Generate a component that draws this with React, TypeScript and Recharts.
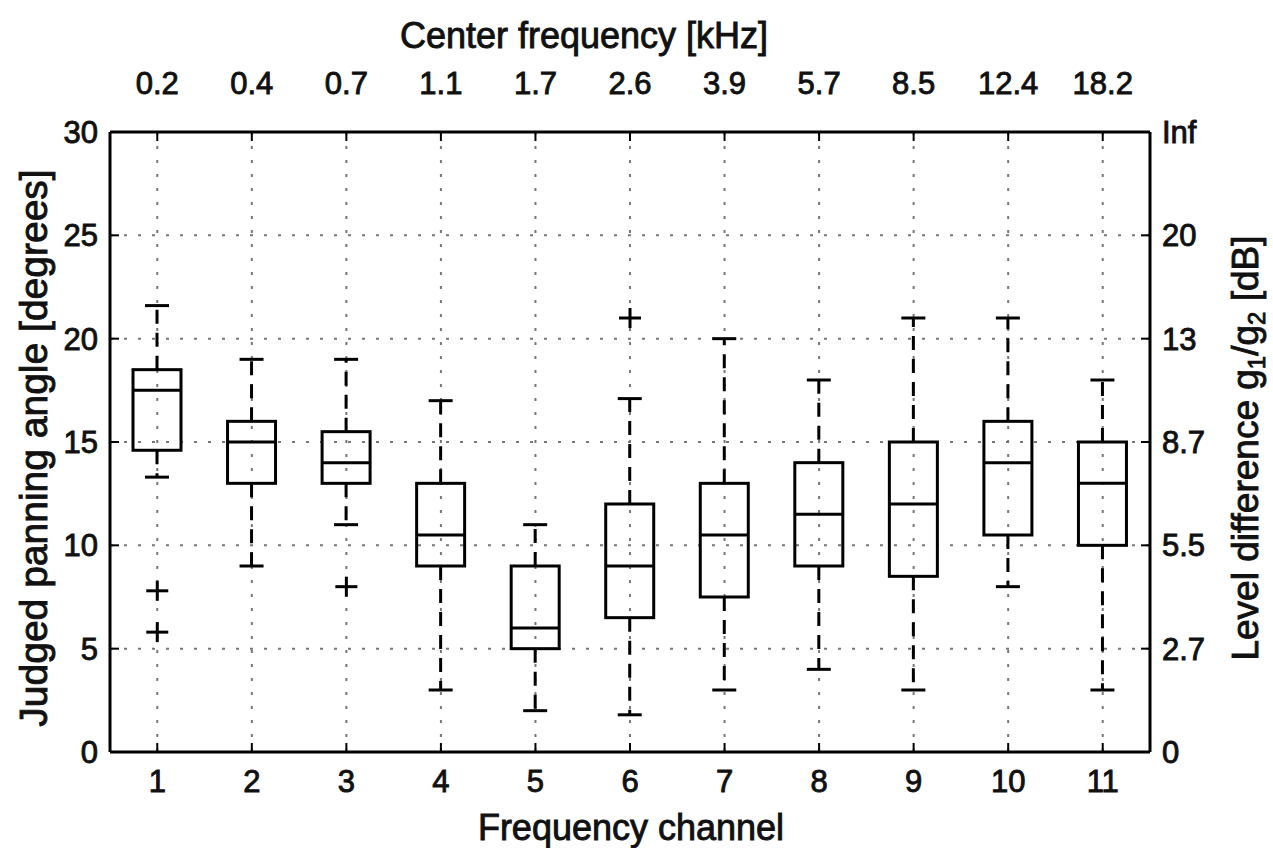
import React from 'react';
import { ComposedChart, Bar, Scatter, XAxis, YAxis, CartesianGrid } from 'recharts';

// frequency channels and their center frequencies (kHz)
const channels = ['1', '2', '3', '4', '5', '6', '7', '8', '9', '10', '11'];
const centerFreqs = ['0.2', '0.4', '0.7', '1.1', '1.7', '2.6', '3.9', '5.7', '8.5', '12.4', '18.2'];

// boxplot stats, judged panning angle in degrees
const whiskerLow = [13.3, 9, 11, 3, 2, 1.8, 3, 4, 3, 8, 3];
const quart1 = [14.6, 13, 13, 9, 5, 6.5, 7.5, 9, 8.5, 10.5, 10];
const medians = [17.5, 15, 14, 10.5, 6, 9, 10.5, 11.5, 12, 14, 13];
const quart3 = [18.5, 16, 15.5, 13, 9, 12, 13, 14, 15, 16, 15];
const whiskerHigh = [21.6, 19, 19, 17, 11, 17.1, 20, 18, 21, 21, 18];

// outliers (+ markers)
const outliersA = [7.8, null, 8, null, null, 21, null, null, null, null, null];
const outliersB = [5.8, null, null, null, null, null, null, null, null, null, null];

const angleTicks = [0, 5, 10, 15, 20, 25, 30];
const levelDiffLabels = ['0', '2.7', '5.5', '8.7', '13', '20', 'Inf'];

const FONT = '"Liberation Sans", Arial, Helvetica, sans-serif';
const TICK_FS = 31;
const TITLE_FS = 36;
const INK = '#111';

const data = channels.map((ch, i) => ({
  ch,
  freq: centerFreqs[i],
  range: [whiskerLow[i], whiskerHigh[i]],
  lo: whiskerLow[i],
  q1: quart1[i],
  med: medians[i],
  q3: quart3[i],
  hi: whiskerHigh[i],
  o1: outliersA[i],
  o2: outliersB[i],
}));

const BoxShape = (props: any) => {
  const { x, y, width, height, payload } = props;
  if (!payload || !height) return null;
  const { lo, hi, q1, med, q3 } = payload;
  const py = (v: number) => y + ((hi - v) / (hi - lo)) * height;
  const cx = x + width / 2;
  const cap = width / 4;
  return (
    <g stroke="#000" strokeWidth={3} fill="none">
      <line x1={cx} x2={cx} y1={py(q3)} y2={py(hi)} strokeDasharray="14 9" />
      <line x1={cx} x2={cx} y1={py(q1)} y2={py(lo)} strokeDasharray="14 9" />
      <line x1={cx - cap} x2={cx + cap} y1={py(hi)} y2={py(hi)} />
      <line x1={cx - cap} x2={cx + cap} y1={py(lo)} y2={py(lo)} />
      <rect x={x} y={py(q3)} width={width} height={py(q1) - py(q3)} fill="none" />
      <line x1={x} x2={x + width} y1={py(med)} y2={py(med)} />
    </g>
  );
};

const PlusShape = (props: any) => {
  const { cx, cy } = props;
  if (!Number.isFinite(cx) || !Number.isFinite(cy)) return null;
  return (
    <g stroke="#000" strokeWidth={3}>
      <line x1={cx - 11} x2={cx + 11} y1={cy} y2={cy} />
      <line x1={cx} x2={cx} y1={cy - 10} y2={cy + 10} />
    </g>
  );
};

const textProps = { fontFamily: FONT, fill: INK, stroke: INK, strokeWidth: 0.9 };

// MATLAB style: tick marks point inward, label outside
const makeTick = (side: string, margin: number, fmt?: (v: any) => string) => (props: any) => {
  const { x, y, payload } = props;
  const txt = fmt ? fmt(payload.value) : String(payload.value);
  const t = 9;
  if (side === 'bottom') {
    const ay = y - margin;
    return (
      <g>
        <line x1={x} x2={x} y1={ay} y2={ay - t} stroke="#000" strokeWidth={2} />
        <text x={x} y={y} dy="0.72em" textAnchor="middle" fontSize={TICK_FS} {...textProps}>{txt}</text>
      </g>
    );
  }
  if (side === 'top') {
    const ay = y + margin;
    return (
      <g>
        <line x1={x} x2={x} y1={ay} y2={ay + t} stroke="#000" strokeWidth={2} />
        <text x={x} y={y} textAnchor="middle" fontSize={TICK_FS} {...textProps}>{txt}</text>
      </g>
    );
  }
  if (side === 'left') {
    const ax = x + margin;
    return (
      <g>
        <line x1={ax} x2={ax + t} y1={y} y2={y} stroke="#000" strokeWidth={2} />
        <text x={x} y={y} dy="0.36em" textAnchor="end" fontSize={TICK_FS} {...textProps}>{txt}</text>
      </g>
    );
  }
  const ax = x - margin;
  return (
    <g>
      <line x1={ax} x2={ax - t} y1={y} y2={y} stroke="#000" strokeWidth={2} />
      <text x={x} y={y} dy="0.36em" textAnchor="start" fontSize={TICK_FS} {...textProps}>{txt}</text>
    </g>
  );
};

const freqOf = (v: any) => {
  const i = channels.indexOf(String(v));
  return i >= 0 ? centerFreqs[i] : '';
};
const levelOf = (v: any) => {
  const i = angleTicks.indexOf(Number(v));
  return i >= 0 ? levelDiffLabels[i] : '';
};

const BottomTitle = (props: any) => {
  const { viewBox } = props;
  return (
    <text x={viewBox.x + viewBox.width / 2 + 1} y={viewBox.y + 88} textAnchor="middle" fontSize={TITLE_FS} {...textProps}>
      Frequency channel
    </text>
  );
};

const TopTitle = (props: any) => {
  const { viewBox } = props;
  return (
    <text x={viewBox.x + viewBox.width / 2 - 46} y={48} textAnchor="middle" fontSize={TITLE_FS} {...textProps}>
      Center frequency [kHz]
    </text>
  );
};

const LeftTitle = (props: any) => {
  const { viewBox } = props;
  const x0 = 47;
  const y0 = viewBox.y + viewBox.height / 2 + 6;
  return (
    <text x={x0} y={y0} transform={`rotate(-90, ${x0}, ${y0})`} textAnchor="middle" fontSize={39} {...textProps}>
      Judged panning angle [degrees]
    </text>
  );
};

const RightTitle = (props: any) => {
  const { viewBox } = props;
  const x0 = 1258;
  const y0 = viewBox.y + viewBox.height / 2 + 6;
  return (
    <text x={x0} y={y0} transform={`rotate(-90, ${x0}, ${y0})`} textAnchor="middle" fontSize={37} {...textProps}>
      Level difference g<tspan dy={7} fontSize={24}>1</tspan>
      <tspan dy={-7}>/g</tspan>
      <tspan dy={7} fontSize={24}>2</tspan>
      <tspan dy={-7}> [dB]</tspan>
    </text>
  );
};

export default function App() {
  return (
    <div style={{ position: 'absolute', left: 0, top: 0, background: '#fff' }}>
      <ComposedChart width={1273} height={848} data={data} margin={{ top: 0, right: 0, bottom: 0, left: 0 }}>
        <CartesianGrid stroke="#777" strokeWidth={2} strokeDasharray="3 11" />
        <XAxis
          dataKey="ch"
          height={96}
          interval={0}
          tickSize={0}
          tickMargin={18}
          tickLine={false}
          axisLine={{ stroke: '#000', strokeWidth: 3 }}
          tick={makeTick('bottom', 18)}
          label={<BottomTitle />}
        />
        <XAxis
          xAxisId="top"
          orientation="top"
          dataKey="ch"
          height={132}
          interval={0}
          tickSize={0}
          tickMargin={38}
          tickLine={false}
          axisLine={{ stroke: '#000', strokeWidth: 3 }}
          tick={makeTick('top', 38, freqOf)}
          label={<TopTitle />}
        />
        <YAxis
          type="number"
          domain={[0, 30]}
          ticks={angleTicks}
          interval={0}
          width={110}
          tickSize={0}
          tickMargin={12}
          tickLine={false}
          axisLine={{ stroke: '#000', strokeWidth: 3 }}
          tick={makeTick('left', 12)}
          label={<LeftTitle />}
        />
        <YAxis
          yAxisId="right"
          orientation="right"
          type="number"
          domain={[0, 30]}
          ticks={angleTicks}
          interval={0}
          width={123}
          tickSize={0}
          tickMargin={12}
          tickLine={false}
          axisLine={{ stroke: '#000', strokeWidth: 3 }}
          tick={makeTick('right', 12, levelOf)}
          label={<RightTitle />}
        />
        <Bar dataKey="range" barSize={48} shape={<BoxShape />} isAnimationActive={false} />
        <Scatter dataKey="o1" shape={<PlusShape />} isAnimationActive={false} />
        {/* same 0-30 domain as the left axis, so the right axis gets a series too */}
        <Scatter yAxisId="right" dataKey="o2" shape={<PlusShape />} isAnimationActive={false} />
      </ComposedChart>
    </div>
  );
}
